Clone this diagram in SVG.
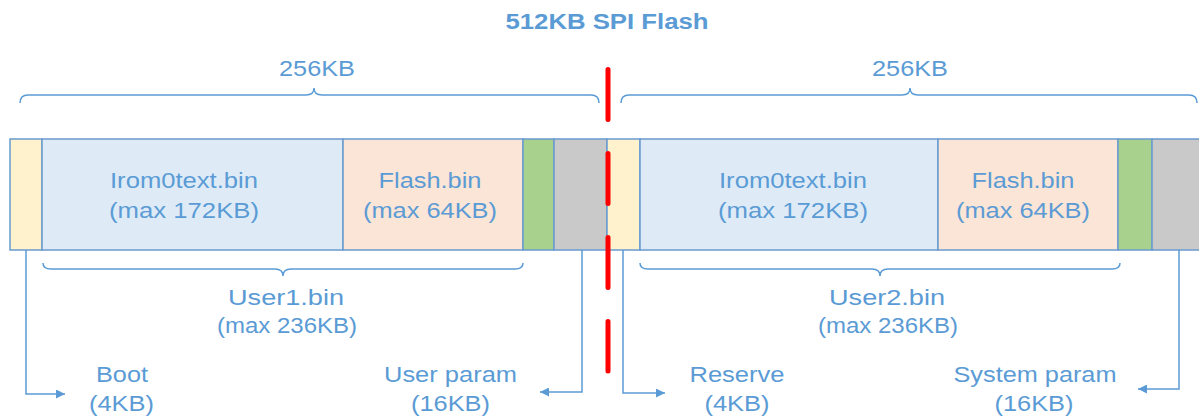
<svg xmlns="http://www.w3.org/2000/svg" width="1199" height="418" viewBox="0 0 1199 418">
<defs>
<style>
.t{font-family:"Liberation Sans",Arial,sans-serif;font-size:22px;fill:#5B9BD5;text-anchor:middle}
.tb{font-weight:bold}
.seg{stroke:#6A9BD0;stroke-width:1.5}
.br{fill:none;stroke:#5B9BD5;stroke-width:1.5}
.cn{fill:none;stroke:#5B9BD5;stroke-width:1.5}
</style>
<marker id="ah" viewBox="0 0 10 10" refX="10" refY="5" markerWidth="11" markerHeight="9" markerUnits="userSpaceOnUse" orient="auto">
<path d="M0,0 L10,5 L0,10 Z" fill="#5B9BD5"/>
</marker>
</defs>
<rect width="1199" height="418" fill="#ffffff"/>
<text class="t tb" x="607" y="29" textLength="203" lengthAdjust="spacingAndGlyphs">512KB SPI Flash</text>
<g id="size-left"><text class="t" x="317" y="76" textLength="76" lengthAdjust="spacingAndGlyphs">256KB</text></g>
<g id="size-right"><text class="t" x="910" y="76" textLength="76" lengthAdjust="spacingAndGlyphs">256KB</text></g>
<g id="braces">
<path class="br" d="M20,103 Q20,95 28,95 L306,95 Q314,95 314,88 Q314,95 322,95 L591,95 Q599,95 599,103"/>
<path class="br" d="M621,103 Q621,95 629,95 L902,95 Q910,95 910,88 Q910,95 918,95 L1189,95 Q1197,95 1197,103"/>
<path class="br" d="M43,263 Q43,269 51,269 L275,269 Q283,269 283,276 Q283,269 291,269 L515,269 Q523,269 523,263"/>
<path class="br" d="M640,263 Q640,269 648,269 L872,269 Q880,269 880,276 Q880,269 888,269 L1112,269 Q1120,269 1120,263"/>
</g>
<g id="boot"><rect class="seg" x="10" y="139" width="32" height="111" fill="#FFF2CC"/></g>
<g id="irom-left"><rect class="seg" x="42" y="139" width="301" height="111" fill="#DEEBF7"/>
<text class="t" x="184" y="188" textLength="148" lengthAdjust="spacingAndGlyphs">Irom0text.bin</text>
<text class="t" x="184" y="218" textLength="150" lengthAdjust="spacingAndGlyphs">(max 172KB)</text></g>
<g id="flash-left"><rect class="seg" x="343" y="139" width="180" height="111" fill="#FBE5D6"/>
<text class="t" x="430" y="188" textLength="103" lengthAdjust="spacingAndGlyphs">Flash.bin</text>
<text class="t" x="430" y="218" textLength="134" lengthAdjust="spacingAndGlyphs">(max 64KB)</text></g>
<g id="green-left"><rect class="seg" x="523" y="139" width="31" height="111" fill="#A9D18E"/></g>
<g id="userparam-block"><rect class="seg" x="554" y="139" width="53" height="111" fill="#C9C9C9"/></g>
<g id="reserve-block"><rect class="seg" x="607" y="139" width="33" height="111" fill="#FFF2CC"/></g>
<g id="irom-right"><rect class="seg" x="640" y="139" width="298" height="111" fill="#DEEBF7"/>
<text class="t" x="793" y="188" textLength="148" lengthAdjust="spacingAndGlyphs">Irom0text.bin</text>
<text class="t" x="793" y="218" textLength="150" lengthAdjust="spacingAndGlyphs">(max 172KB)</text></g>
<g id="flash-right"><rect class="seg" x="938" y="139" width="180" height="111" fill="#FBE5D6"/>
<text class="t" x="1023" y="188" textLength="103" lengthAdjust="spacingAndGlyphs">Flash.bin</text>
<text class="t" x="1023" y="218" textLength="134" lengthAdjust="spacingAndGlyphs">(max 64KB)</text></g>
<g id="green-right"><rect class="seg" x="1118" y="139" width="34" height="111" fill="#A9D18E"/></g>
<g id="sysparam-block"><rect class="seg" x="1152" y="139" width="50" height="111" fill="#C9C9C9"/></g>
<g id="user1"><text class="t" x="286" y="305" textLength="116" lengthAdjust="spacingAndGlyphs">User1.bin</text>
<text class="t" x="287" y="333" textLength="140" lengthAdjust="spacingAndGlyphs">(max 236KB)</text></g>
<g id="user2"><text class="t" x="887" y="305" textLength="116" lengthAdjust="spacingAndGlyphs">User2.bin</text>
<text class="t" x="888" y="333" textLength="140" lengthAdjust="spacingAndGlyphs">(max 236KB)</text></g>
<g id="connectors">
<path class="cn" d="M26,250 L26,394 L65,394" marker-end="url(#ah)"/>
<path class="cn" d="M582,250 L582,392 L540,392" marker-end="url(#ah)"/>
<path class="cn" d="M623,250 L623,393 L665,393" marker-end="url(#ah)"/>
<path class="cn" d="M1179,250 L1179,389 L1138,389" marker-end="url(#ah)"/>
</g>
<g id="divider"><line x1="608" y1="69.5" x2="608" y2="371" stroke="#FF0000" stroke-width="5" stroke-linecap="round" stroke-dasharray="50 34"/></g>
<g id="label-boot"><text class="t" x="122" y="382" textLength="52" lengthAdjust="spacingAndGlyphs">Boot</text>
<text class="t" x="121.5" y="411" textLength="65" lengthAdjust="spacingAndGlyphs">(4KB)</text></g>
<g id="label-userparam"><text class="t" x="450.5" y="382" textLength="133" lengthAdjust="spacingAndGlyphs">User param</text>
<text class="t" x="450.5" y="411" textLength="79" lengthAdjust="spacingAndGlyphs">(16KB)</text></g>
<g id="label-reserve"><text class="t" x="737" y="382" textLength="95" lengthAdjust="spacingAndGlyphs">Reserve</text>
<text class="t" x="737" y="411" textLength="65" lengthAdjust="spacingAndGlyphs">(4KB)</text></g>
<g id="label-sysparam"><text class="t" x="1035" y="382" textLength="163" lengthAdjust="spacingAndGlyphs">System param</text>
<text class="t" x="1034" y="411" textLength="79" lengthAdjust="spacingAndGlyphs">(16KB)</text></g>
</svg>
